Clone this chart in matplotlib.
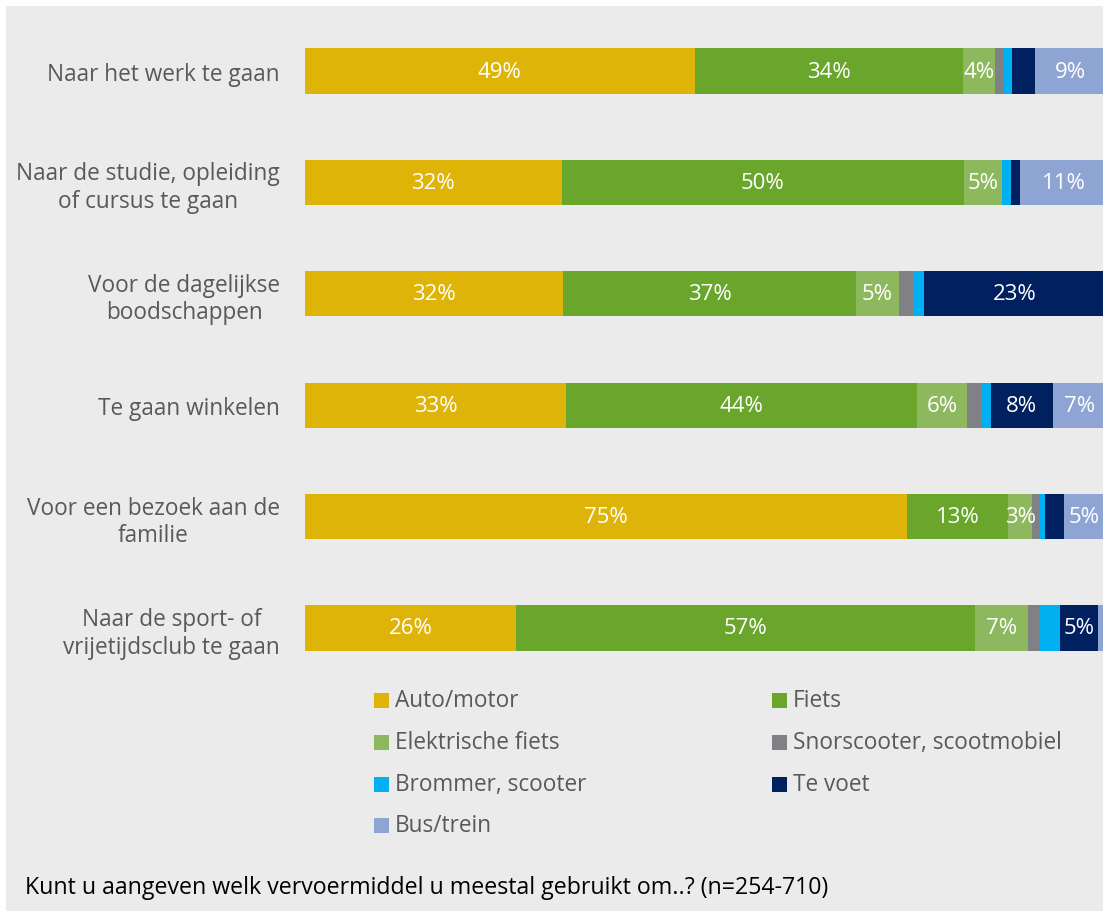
import numpy as np
import matplotlib.pyplot as plt
from matplotlib.patches import Rectangle

plt.rcParams['font.family'] = ['Open Sans', 'DejaVu Sans']

categories = ['Naar het werk te gaan',
              'Naar de studie, opleiding\nof cursus te gaan',
              'Voor de dagelijkse\nboodschappen',
              'Te gaan winkelen',
              'Voor een bezoek aan de\nfamilie',
              'Naar de sport- of\nvrijetijdsclub te gaan']
series = ['Auto/motor', 'Fiets', 'Elektrische fiets', 'Snorscooter, scootmobiel',
          'Brommer, scooter', 'Te voet', 'Bus/trein']
auto = [48.7, 32.1, 32.3, 32.6, 75.3, 26.4]
fiets = [33.6, 50.3, 36.6, 43.9, 12.6, 57.4]
efiets = [3.9, 4.7, 5.3, 6.3, 3.0, 6.6]
snor = [1.2, 0.0, 1.8, 1.7, 0.8, 1.5]
brommer = [1.0, 1.1, 1.4, 1.2, 0.8, 2.5]
tevoet = [2.8, 1.2, 22.6, 7.8, 2.4, 4.7]
bus = [8.9, 10.8, 0.0, 6.6, 5.1, 1.0]
colors = ['#DFB408', '#6AA52C', '#8DB85E', '#808184', '#00B0F0', '#002060', '#8EA5D4']

data = np.array([auto, fiets, efiets, snor, brommer, tevoet, bus])
bg = '#EBEBEB'

fig = plt.figure(figsize=(11.03, 9.12), dpi=100)
fig.patch.set_facecolor('white')
fig.patches.append(Rectangle((6/1103, 0), 1, 1 - 7/912, transform=fig.transFigure,
                             facecolor=bg, edgecolor='none', zorder=-10))

ax = fig.add_axes([305/1103, 1 - 684.7/912, 800/1103, 668.4/912])
ax.set_facecolor('none')
y = np.arange(len(categories))
left = np.zeros(len(categories))
for vals, name, c in zip(data, series, colors):
    ax.barh(y, vals, left=left, height=0.405, color=c, label=name)
    for yi, (l, v) in enumerate(zip(left, vals)):
        if v >= 2.95:
            ax.text(l + v / 2, yi, f'{round(v):.0f}%', ha='center', va='center',
                    color='white', fontsize=16)
    left += vals

ax.set_xlim(0, 100)
ax.set_ylim(len(categories) - 0.5, -0.5)
ax.set_yticks(y)
ax.set_yticklabels(categories, fontsize=16.3, color='#595959', ha='right',
                   multialignment='center', linespacing=1.2)
ax.tick_params(axis='y', length=0, pad=18)
ax.set_xticks([])
for s in ax.spines.values():
    s.set_visible(False)

# legend, two columns
leg_x = [374, 772]
leg_y = [701, 743, 785, 826]
for i, (name, c) in enumerate(zip(series, colors)):
    px = leg_x[i % 2]
    py = leg_y[i // 2]
    fig.patches.append(Rectangle((px/1103, 1 - (py + 7.5)/912), 15/1103, 15/912,
                                 transform=fig.transFigure, facecolor=c, edgecolor='none'))
    fig.text((px + 21)/1103, 1 - py/912, name, ha='left', va='center',
             fontsize=16.3, color='#595959')

fig.text(25/1103, 1 - 888/912, 'Kunt u aangeven welk vervoermiddel u meestal gebruikt om..? (n=254-710)',
         ha='left', va='center', fontsize=16.7, color='black')

fig.savefig('out.png', dpi=100, facecolor=fig.get_facecolor())
